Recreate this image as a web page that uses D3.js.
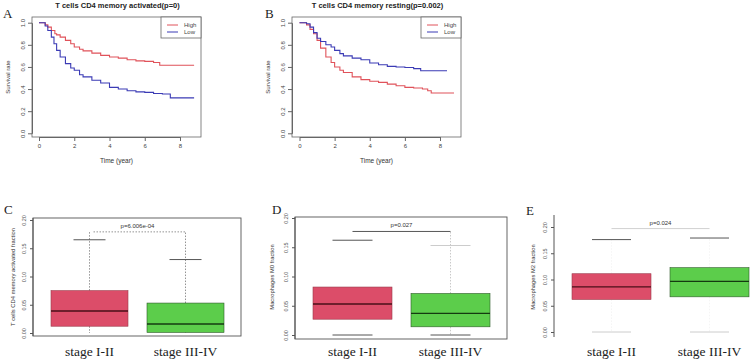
<!DOCTYPE html>
<html>
<head>
<meta charset="utf-8">
<script src="https://cdn.jsdelivr.net/npm/d3@7"></script>
<style>
  body { margin: 0; background: #fff; }
  svg { display: block; }
  .sans { font-family: "Liberation Sans", Arial, sans-serif; }
  .serif { font-family: "Liberation Serif", "Times New Roman", serif; }
</style>
</head>
<body>
<svg id="fig" width="753" height="361"></svg>
<script>
// ---- survival data (time in years, survival rate) ----
const aHighTime = [0, 0.35, 0.5, 0.7, 0.9, 1.0, 1.2, 1.5, 1.8, 2.0, 2.3, 2.5, 3.0, 3.5, 4.0, 4.5, 5.0, 5.5, 6.0, 6.5, 6.85, 8.8];
const aHighSurv = [1.0, 0.98, 0.96, 0.93, 0.90, 0.89, 0.87, 0.84, 0.81, 0.78, 0.76, 0.745, 0.725, 0.705, 0.69, 0.68, 0.665, 0.655, 0.65, 0.64, 0.615, 0.615];
const aLowTime = [0, 0.35, 0.5, 0.7, 0.85, 1.0, 1.2, 1.5, 1.8, 2.0, 2.3, 2.5, 3.0, 3.5, 4.0, 4.5, 5.0, 5.5, 6.0, 6.5, 7.0, 7.45, 8.8];
const aLowSurv = [1.0, 0.97, 0.93, 0.87, 0.81, 0.75, 0.69, 0.63, 0.59, 0.57, 0.53, 0.51, 0.48, 0.455, 0.415, 0.40, 0.385, 0.375, 0.37, 0.36, 0.355, 0.32, 0.32];

const bHighTime = [0, 0.4, 0.6, 0.8, 1.0, 1.2, 1.5, 1.8, 2.0, 2.3, 2.5, 3.0, 3.5, 4.0, 4.5, 5.0, 5.5, 6.0, 6.5, 7.0, 7.3, 7.5, 8.8];
const bHighSurv = [1.0, 0.98, 0.94, 0.90, 0.84, 0.77, 0.69, 0.64, 0.60, 0.57, 0.55, 0.51, 0.485, 0.47, 0.46, 0.445, 0.43, 0.415, 0.41, 0.40, 0.385, 0.365, 0.365];
const bLowTime = [0, 0.4, 0.6, 0.8, 1.0, 1.2, 1.5, 1.8, 2.0, 2.3, 2.5, 3.0, 3.5, 4.0, 4.5, 5.0, 5.5, 6.0, 6.5, 6.9, 8.4];
const bLowSurv = [1.0, 0.99, 0.96, 0.91, 0.86, 0.83, 0.80, 0.78, 0.75, 0.72, 0.70, 0.68, 0.665, 0.635, 0.62, 0.605, 0.60, 0.595, 0.585, 0.565, 0.565];

const survYTicks = [0, 0.2, 0.4, 0.6, 0.8, 1.0];
const survXTicks = [0, 2, 4, 6, 8];
const legendLabels = ["High", "Low"];

// ---- boxplot data ----
const stages = ["stage I-II", "stage III-IV"];
const fracTicks = [0, 0.05, 0.10, 0.15, 0.20];

const cQ1 = [0.012, 0.001], cMed = [0.039, 0.016], cQ3 = [0.075, 0.053], cHi = [0.165, 0.130], cLo = [0, 0];
const dQ1 = [0.027, 0.014], dMed = [0.053, 0.037], dQ3 = [0.082, 0.071], dHi = [0.162, 0.153], dLo = [0, 0];
const eQ1 = [0.062, 0.067], eMed = [0.086, 0.0965], eQ3 = [0.111, 0.1225], eHi = [0.176, 0.179], eLo = [0, 0];

const cP = "p=6.006e-04", dP = "p=0.027", eP = "p=0.024";
const cBracket = 0.179, dBracket = 0.177, eBracket = 0.197;

const svg = d3.select("#fig");
const boxFill = ["#dc4d69", "#5ccd4b"];
const tickFmt = d3.format(".1f");
const fracFmt = d3.format(".2f");

function survPanel(o) {
  const g = svg.append("g");
  const x = d3.scaleLinear().domain([0, 8]).range([o.x0, o.x8]);
  const y = d3.scaleLinear().domain([0, 1]).range([o.y0, o.y1]);

  g.append("rect").attr("x", o.left).attr("y", o.top)
    .attr("width", o.right - o.left).attr("height", o.bottom - o.top)
    .attr("fill", "none").attr("stroke", "#666").attr("stroke-width", 0.8);

  const yax = g.append("g").attr("transform", `translate(${o.left},0)`)
    .call(d3.axisLeft(y).tickValues(survYTicks).tickFormat(tickFmt).tickSize(4).tickSizeOuter(0));
  yax.select(".domain").attr("stroke", "#666");
  yax.selectAll(".tick line").attr("stroke", "#666");
  yax.selectAll(".tick text").attr("class", "sans").attr("font-size", 6).attr("fill", "#444")
    .attr("transform", "rotate(-90)").attr("x", 0).attr("y", -7).attr("dy", 0).attr("text-anchor", "middle");

  const xax = g.append("g").attr("transform", `translate(0,${o.bottom})`)
    .call(d3.axisBottom(x).tickValues(survXTicks).tickSize(4).tickSizeOuter(0));
  xax.select(".domain").attr("stroke", "#666");
  xax.selectAll(".tick line").attr("stroke", "#666");
  xax.selectAll(".tick text").attr("class", "sans").attr("font-size", 6).attr("fill", "#444").attr("y", 7);

  const line = d3.line().x(d => x(d[0])).y(d => y(d[1])).curve(d3.curveStepAfter);
  const series = [
    { t: o.highT, s: o.highS, c: "#e0525a" },
    { t: o.lowT, s: o.lowS, c: "#3b3bb5" }
  ];
  g.selectAll("path.km").data(series).join("path").attr("class", "km")
    .attr("d", d => line(d.t.map((t, i) => [t, d.s[i]])))
    .attr("fill", "none").attr("stroke", d => d.c).attr("stroke-width", 1.1);

  // legend
  const lg = g.append("g");
  lg.append("rect").attr("x", o.right - 40).attr("y", o.top)
    .attr("width", 40).attr("height", 21).attr("fill", "#fff").attr("stroke", "#666").attr("stroke-width", 0.8);
  lg.selectAll("line").data(legendLabels).join("line")
    .attr("x1", o.right - 34).attr("x2", o.right - 23)
    .attr("y1", (d, i) => o.top + 8 + i * 7).attr("y2", (d, i) => o.top + 8 + i * 7)
    .attr("stroke", (d, i) => series[i].c).attr("stroke-width", 1);
  lg.selectAll("text").data(legendLabels).join("text").attr("class", "sans")
    .attr("x", o.right - 17).attr("y", (d, i) => o.top + 10 + i * 7)
    .attr("font-size", 6).attr("fill", "#444").text(d => d);

  g.append("text").attr("class", "sans").attr("x", (o.left + o.right) / 2 + 1).attr("y", 8)
    .attr("text-anchor", "middle").attr("font-size", 7.5).attr("font-weight", "bold").attr("fill", "#222").text(o.title);
  g.append("text").attr("class", "sans").attr("x", (o.left + o.right) / 2).attr("y", 163)
    .attr("text-anchor", "middle").attr("font-size", 6.5).attr("fill", "#333").text("Time (year)");
  g.append("text").attr("class", "sans")
    .attr("transform", `translate(${o.left - 22},${(o.top + o.bottom) / 2}) rotate(-90)`)
    .attr("text-anchor", "middle").attr("font-size", 6).attr("fill", "#333").text("Survival rate");
  g.append("text").attr("class", "serif").attr("x", o.letterX).attr("y", 18)
    .attr("font-size", 13).attr("fill", "#222").text(o.letter);
}

function boxPanel(o) {
  const g = svg.append("g");
  const x = d3.scalePoint().domain(stages).range([o.c1, o.c2]);
  const y = d3.scaleLinear().domain([0, 0.2]).range([o.y0, o.y20]);
  const bw = o.bw;

  if (o.frame) {
    g.append("rect").attr("x", o.left).attr("y", o.top)
      .attr("width", o.right - o.left).attr("height", o.bottom - o.top)
      .attr("fill", "none").attr("stroke", "#555").attr("stroke-width", 0.9);
  }
  const yax = g.append("g").attr("transform", `translate(${o.left},0)`)
    .call(d3.axisLeft(y).tickValues(fracTicks).tickFormat(fracFmt).tickSize(3).tickSizeOuter(0));
  yax.select(".domain").attr("stroke", "#555").attr("d", `M0,${o.top}V${o.bottom}`);
  yax.selectAll(".tick line").attr("stroke", "#555");
  yax.selectAll(".tick text").attr("class", "sans").attr("font-size", 5.5).attr("fill", "#555")
    .attr("transform", "rotate(-90)").attr("x", 0).attr("y", -7).attr("dy", 0).attr("text-anchor", "middle");

  const rows = stages.map((s, i) => ({
    s, i, q1: o.q1[i], med: o.med[i], q3: o.q3[i], hi: o.hi[i], lo: o.lo[i]
  }));

  // whiskers
  g.selectAll("line.wu").data(rows).join("line").attr("class", "wu")
    .attr("x1", d => x(d.s)).attr("x2", d => x(d.s))
    .attr("y1", d => y(d.q3)).attr("y2", d => y(o.whiskTop ? o.bracket : d.hi))
    .attr("stroke", (d, i) => o.whiskColor[i]).attr("stroke-width", 0.8).attr("stroke-dasharray", "1.5,1.5");
  g.selectAll("line.wl").data(rows).join("line").attr("class", "wl")
    .attr("x1", d => x(d.s)).attr("x2", d => x(d.s))
    .attr("y1", d => y(d.q1)).attr("y2", d => y(d.lo))
    .attr("stroke", (d, i) => o.whiskColor[i]).attr("stroke-width", 0.8).attr("stroke-dasharray", "1.5,1.5");

  // caps
  g.selectAll("line.ch").data(rows).join("line").attr("class", "ch")
    .attr("x1", d => x(d.s) - o.cap / 2).attr("x2", d => x(d.s) + o.cap / 2)
    .attr("y1", d => y(d.hi)).attr("y2", d => y(d.hi))
    .attr("stroke", (d, i) => o.capHiColor[i]).attr("stroke-width", 1);
  if (o.lowCaps) {
    g.selectAll("line.cl").data(rows).join("line").attr("class", "cl")
      .attr("x1", d => x(d.s) - o.cap / 2).attr("x2", d => x(d.s) + o.cap / 2)
      .attr("y1", d => y(d.lo)).attr("y2", d => y(d.lo))
      .attr("stroke", (d, i) => o.capLoColor[i]).attr("stroke-width", 1);
  }

  // boxes
  g.selectAll("rect.bx").data(rows).join("rect").attr("class", "bx")
    .attr("x", d => x(d.s) - bw / 2).attr("width", bw)
    .attr("y", d => y(d.q3)).attr("height", d => y(d.q1) - y(d.q3))
    .attr("fill", (d, i) => boxFill[i]).attr("stroke", (d, i) => i ? "#2e5a28" : "#9a3a4a").attr("stroke-width", 0.6);
  g.selectAll("line.md").data(rows).join("line").attr("class", "md")
    .attr("x1", d => x(d.s) - bw / 2).attr("x2", d => x(d.s) + bw / 2)
    .attr("y1", d => y(d.med)).attr("y2", d => y(d.med))
    .attr("stroke", (d, i) => i ? "#143a10" : "#4a0f18").attr("stroke-width", 1.4);

  // significance bracket
  g.append("line").attr("x1", x(stages[0]) + o.brOff[0]).attr("x2", x(stages[1]) + o.brOff[1])
    .attr("y1", y(o.bracket)).attr("y2", y(o.bracket))
    .attr("stroke", o.brColor).attr("stroke-width", 0.9).attr("stroke-dasharray", o.brDash);
  g.append("text").attr("class", "sans").attr("x", (x(stages[0]) + x(stages[1])) / 2 + o.pOff).attr("y", y(o.bracket) - 4)
    .attr("text-anchor", "middle").attr("font-size", 6).attr("fill", "#333").text(o.p);

  // labels
  g.selectAll("text.st").data(stages).join("text").attr("class", "st serif")
    .attr("x", d => x(d)).attr("y", 356).attr("text-anchor", "middle")
    .attr("font-size", 13.5).attr("fill", "#222").text(d => d);
  g.append("text").attr("class", "sans")
    .attr("transform", `translate(${o.labelX},${o.labelY}) rotate(-90)`)
    .attr("text-anchor", "middle").attr("font-size", 5.8).attr("fill", "#333").text(o.ylabel);
  g.append("text").attr("class", "serif").attr("x", o.letterX).attr("y", o.letterY)
    .attr("font-size", 13).attr("fill", "#222").text(o.letter);
}

survPanel({
  left: 32, right: 201, top: 17, bottom: 137, x0: 39, x8: 180, y0: 133.3, y1: 22.7,
  highT: aHighTime, highS: aHighSurv, lowT: aLowTime, lowS: aLowSurv,
  title: "T cells CD4 memory activated(p=0)", letter: "A", letterX: 3
});
survPanel({
  left: 292, right: 461, top: 17, bottom: 137, x0: 299.5, x8: 440, y0: 133.3, y1: 22.7,
  highT: bHighTime, highS: bHighSurv, lowT: bLowTime, lowS: bLowSurv,
  title: "T cells CD4 memory resting(p=0.002)", letter: "B", letterX: 265
});

boxPanel({
  left: 33, right: 241, top: 218, bottom: 336, frame: true, y0: 333, y20: 220,
  c1: 89.5, c2: 185.5, bw: 77, cap: 32,
  q1: cQ1, med: cMed, q3: cQ3, hi: cHi, lo: cLo, bracket: cBracket, whiskTop: true,
  whiskColor: ["#777", "#777"], capHiColor: ["#555", "#555"], lowCaps: false, capLoColor: ["#fff", "#fff"],
  brColor: "#888", brDash: "1.5,1.5", brOff: [4, 0], pOff: 0, p: cP,
  ylabel: "T cells CD4 memory activated fraction", labelX: 15, labelY: 277,
  letter: "C", letterX: 4, letterY: 214
});
boxPanel({
  left: 295, right: 507, top: 217, bottom: 339, frame: true, y0: 335, y20: 218,
  c1: 352.5, c2: 450.5, bw: 79, cap: 40,
  q1: dQ1, med: dMed, q3: dQ3, hi: dHi, lo: dLo, bracket: dBracket, whiskTop: true,
  whiskColor: ["#fff", "#bbb"], capHiColor: ["#555", "#ccc"], lowCaps: true, capLoColor: ["#555", "#555"],
  brColor: "#444", brDash: null, brOff: [0, 0], pOff: 0, p: dP,
  ylabel: "Macrophages M0 fraction", labelX: 274, labelY: 277,
  letter: "D", letterX: 272, letterY: 214
});
boxPanel({
  left: 554, right: 753, top: 215, bottom: 337, frame: false, y0: 332, y20: 227,
  c1: 611.5, c2: 709.5, bw: 79, cap: 39,
  q1: eQ1, med: eMed, q3: eQ3, hi: eHi, lo: eLo, bracket: eBracket, whiskTop: false,
  whiskColor: ["#f2f2f2", "#f2f2f2"], capHiColor: ["#555", "#555"], lowCaps: true, capLoColor: ["#ccc", "#ccc"],
  brColor: "#ccc", brDash: null, brOff: [0, 0], pOff: 0, p: eP,
  ylabel: "Macrophages M2 fraction", labelX: 535, labelY: 277,
  letter: "E", letterX: 526, letterY: 215
});
</script>
</body>
</html>
